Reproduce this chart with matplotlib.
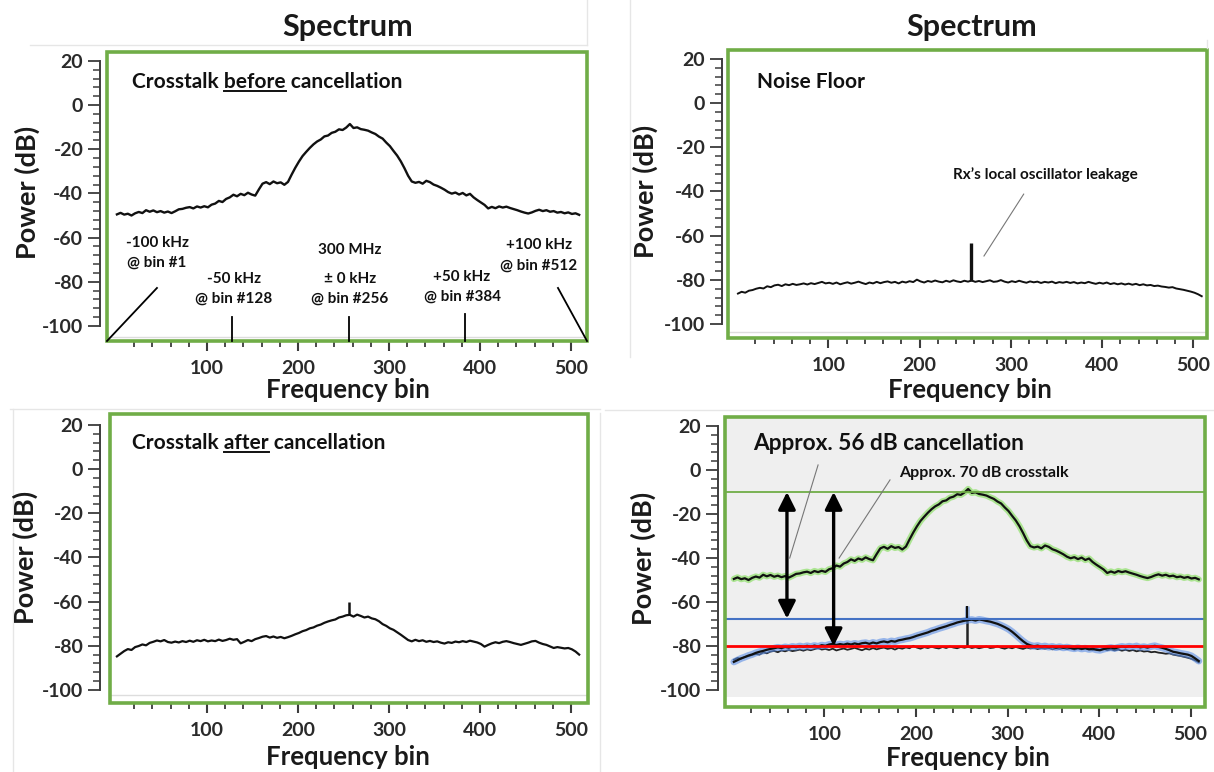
import matplotlib.pyplot as plt
from matplotlib.patches import Rectangle
from matplotlib.lines import Line2D

plt.rcParams['font.family'] = ['Lato', 'DejaVu Sans']
plt.rcParams['axes.unicode_minus'] = False

W, H = 1214, 772

# frequency bins sampled every 4th bin
bins = list(range(1, 513, 4))

crosstalk_before = [
    -49.5, -48.8, -49.6, -49.2, -50.0, -49.0, -48.4, -48.9, -47.6, -48.3, -47.7, -48.5, -48.0, -48.7, -48.2, -48.9,
    -48.1, -47.2, -47.0, -46.5, -46.2, -46.8, -45.9, -46.4, -45.8, -46.3, -45.1, -44.6, -43.4, -43.9, -42.5, -41.8,
    -40.6, -41.3, -40.2, -40.8, -39.7, -40.5, -41.0, -38.2, -35.6, -34.9, -35.8, -34.6, -35.4, -35.0, -36.1, -34.8,
    -31.5, -28.4, -25.6, -23.1, -21.2, -19.4, -17.8, -16.5, -15.6, -14.2, -13.8, -12.6, -12.1, -11.0, -11.3, -10.2,
    -8.6, -10.4, -10.1, -10.9, -11.2, -11.6, -12.4, -13.1, -14.3, -15.2, -17.0, -18.6, -20.8, -22.9, -25.5, -28.6,
    -32.0, -34.6, -35.2, -34.8, -35.6, -34.3, -34.9, -36.0, -36.6, -37.4, -38.3, -39.4, -40.1, -39.6, -40.5, -39.8,
    -40.9, -40.2, -41.8, -43.0, -44.1, -45.2, -46.8, -46.1, -46.7, -45.9, -46.4, -46.0, -46.6, -47.1, -47.6, -48.2,
    -48.7, -49.1, -48.6, -47.9, -47.4, -48.0, -47.6, -48.3, -48.0, -48.7, -48.4, -49.0, -48.6, -49.3, -49.0, -49.7,
]

crosstalk_after = [
    -84.8, -83.6, -82.4, -81.5, -81.9, -80.6, -80.1, -79.4, -79.8, -78.7, -78.2, -77.6, -78.0, -77.4, -78.3, -78.6,
    -78.1, -78.5, -77.9, -78.3, -77.7, -78.2, -77.5, -77.9, -77.3, -78.0, -77.6, -77.9, -77.2, -77.8, -77.4, -76.8,
    -77.3, -77.0, -78.9, -78.2, -77.4, -77.9, -77.0, -76.5, -75.9, -75.6, -76.3, -75.8, -76.4, -76.0, -76.6, -76.1,
    -75.5, -74.8, -74.2, -73.4, -72.9, -72.1, -71.7, -70.9, -70.4, -69.6, -69.0, -68.5, -68.1, -67.2, -66.8, -66.2,
    -66.0, -66.8, -65.9, -66.5, -67.2, -66.8, -67.6, -68.0, -68.9, -70.2, -71.0, -72.1, -72.8, -73.9, -75.0, -76.2,
    -77.4, -78.0, -77.3, -77.9, -77.5, -78.2, -77.8, -78.3, -78.0, -78.6, -79.0, -78.4, -78.7, -78.1, -78.4, -77.9,
    -78.3, -77.7, -78.1, -78.5, -79.2, -80.4, -79.6, -78.9, -78.4, -78.8, -78.2, -77.9, -78.3, -78.8, -79.2, -79.6,
    -79.1, -78.6, -78.0, -77.8, -78.6, -79.2, -79.6, -80.3, -81.0, -80.6, -80.9, -81.2, -81.0, -81.6, -82.6, -84.0,
]

noise_floor = [
    -86.2, -85.4, -85.8, -84.9, -84.6, -84.0, -83.6, -83.9, -82.9, -83.3, -82.5, -82.2, -82.8, -82.0, -82.4, -81.8,
    -82.3, -82.0, -81.6, -82.1, -81.5, -81.9, -81.4, -80.9, -81.6, -81.3, -81.8, -81.2, -82.0, -81.5, -81.1, -81.7,
    -81.3, -80.8, -81.4, -81.9, -81.2, -81.6, -80.9, -81.5, -81.0, -80.7, -81.3, -80.9, -81.6, -80.8, -81.2, -80.6,
    -81.0, -79.9, -80.7, -81.2, -80.5, -80.9, -80.3, -80.8, -81.1, -80.4, -80.9, -80.2, -80.7, -81.0, -80.4, -80.8,
    -80.3, -80.9, -80.5, -81.0, -80.6, -80.2, -80.9, -80.7, -80.1, -80.8, -81.2, -80.6, -81.0, -80.4, -80.9, -81.3,
    -80.7, -81.1, -80.8, -81.4, -80.9, -81.2, -80.8, -81.5, -81.0, -81.3, -80.9, -81.4, -81.0, -81.6, -81.2, -81.5,
    -80.9, -81.4, -81.8, -81.3, -81.7, -81.2, -81.9, -81.5, -82.0, -81.6, -82.1, -81.7, -82.2, -81.8, -82.4, -82.0,
    -82.5, -82.3, -82.8, -82.6, -83.0, -83.2, -83.5, -83.3, -83.9, -84.2, -84.5, -84.9, -85.3, -85.8, -86.5, -87.4,
]

# after-cancellation trace as captured in the overlay panel
after_overlay = [
    -87.2, -86.4, -85.6, -85.0, -84.3, -83.8, -83.1, -82.6, -82.2, -81.7, -81.3, -81.0, -80.6, -80.9, -80.4, -80.7,
    -80.2, -80.5, -80.0, -80.4, -79.9, -80.3, -79.8, -80.2, -79.6, -79.9, -79.3, -79.0, -79.5, -79.1, -79.4, -78.9,
    -79.3, -78.8, -79.2, -78.7, -78.5, -79.0, -78.4, -78.8, -78.2, -77.9, -78.3, -77.7, -78.0, -77.4, -77.1, -76.7,
    -76.4, -75.9, -75.3, -74.8, -74.3, -73.8, -73.1, -72.6, -72.0, -71.5, -71.0, -70.4, -69.9, -69.3, -68.9, -68.5,
    -68.2, -68.0, -68.4, -67.9, -68.2, -68.6, -68.9, -69.4, -69.9, -70.6, -71.4, -72.3, -73.5, -74.9, -76.4, -77.8,
    -79.0, -79.7, -80.1, -79.8, -80.3, -80.0, -80.5, -80.2, -80.7, -80.3, -80.8, -80.5, -80.9, -81.2, -80.8, -81.3,
    -81.0, -81.5, -81.2, -81.7, -81.9, -81.4, -81.0, -80.7, -81.1, -80.6, -80.2, -80.5, -80.1, -80.4, -80.0, -80.6,
    -80.3, -80.7, -80.2, -79.9, -80.4, -80.8, -81.3, -81.9, -82.6, -82.9, -83.3, -83.6, -83.9, -84.5, -85.6, -86.8,
]

# LO leakage spike at the centre bin: (base, top) in dB
leak_bin = 256
leak_noise = (-80.3, -63.3)
leak_after = (-66.0, -60.0)
leak_overlay_after = (-68.2, -62.0)
leak_overlay_noise = (-80.5, -68.0)

# reference levels in the overlay panel
level_before = -10.0
level_after = -67.5
level_noise = -80.0

GREEN = '#70ad47'
AXC = '#3c3c3c'


def fpos(x, y):
    return x / W, 1 - y / H


def make_panel(fig, box, xlim, ylim, gap):
    left, top, right, bottom = box
    ax = fig.add_axes([left / W, 1 - bottom / H, (right - left) / W, (bottom - top) / H])
    ax.set_xlim(xlim)
    ax.set_ylim(ylim)
    for s in ['top', 'right', 'bottom']:
        ax.spines[s].set_visible(False)
    ax.spines['left'].set_position(('outward', gap * 0.72))
    ax.spines['left'].set_bounds(-100, 20)
    ax.spines['left'].set_color(AXC)
    ax.spines['left'].set_linewidth(1.4)
    ax.set_xticks([100, 200, 300, 400, 500])
    ax.set_xticks([v for v in range(20, 520, 20) if v % 100], minor=True)
    ax.set_yticks(range(-100, 21, 20))
    ax.set_yticks([v for v in range(-100, 21, 4) if v % 20], minor=True)
    ax.tick_params(axis='y', which='major', length=9, width=1.3, color=AXC, labelsize=14, pad=3,
                   labelcolor='#2a2a2a')
    ax.tick_params(axis='y', which='minor', length=5, width=1.1, color=AXC)
    ax.tick_params(axis='x', which='major', length=7, width=1.5, color=AXC, labelsize=14, pad=7,
                   labelcolor='#2a2a2a')
    ax.tick_params(axis='x', which='minor', length=4, width=1.3, color=AXC)
    for lab in ax.get_xticklabels() + ax.get_yticklabels():
        lab.set_fontweight('bold')
    ax.add_patch(Rectangle((0, 0), 1, 1, transform=ax.transAxes, fill=False, ec=GREEN, lw=2.6,
                           clip_on=False, zorder=10))
    return ax


def text_px(fig, x, y, s, **kw):
    return fig.text(*fpos(x, y), s, **kw)


def underlined(fig, x, y, pre, word, post, size):
    kw = dict(fontsize=size, fontweight='bold', color='#111111', va='center', ha='left')
    full = text_px(fig, x, y, pre + word + post, **kw)
    r = fig.canvas.get_renderer()
    t1 = text_px(fig, x, y, pre + word, **kw)
    t2 = text_px(fig, x, y, word, **kw)
    w1 = t1.get_window_extent(r).width
    w2 = t2.get_window_extent(r).width
    t1.remove()
    t2.remove()
    x0, x1 = x + w1 - w2, x + w1
    yl = y + size * 0.62
    fig.add_artist(Line2D([x0 / W, x1 / W], [1 - yl / H, 1 - yl / H], color='#111111', lw=1.4))
    return full


fig = plt.figure(figsize=(W / 100, H / 100), dpi=100)

# faint screenshot borders
for (xa, ya, xb, yb) in [(10, 409, 600, 409), (13, 409, 13, 772), (600, 413, 600, 772), (605, 410, 1214, 410),
                         (630, 0, 630, 357), (587, 0, 587, 45), (30, 45, 587, 45), (1207, 40, 1207, 48)]:
    fig.add_artist(Line2D([xa / W, xb / W], [1 - ya / H, 1 - yb / H], color='#e6e6e6', lw=1))

# ---- top left: crosstalk before cancellation
ax1 = make_panel(fig, (107, 52, 587, 341), (-9.9, 517.6), (-106.8, 24.0), 7)
ax1.axhline(-105, color='#dddddd', lw=1)
ax1.plot(bins, crosstalk_before, color='#111111', lw=1.7)
for xa, ya, xb, yb in [(45, -82.8, -9.9, -106.8), (128, -96, 128, -106.8), (256, -96, 256, -106.8),
                       (384, -94.6, 384, -106.8), (485.7, -82.8, 517.6, -106.8)]:
    ax1.plot([xa, xb], [ya, yb], color='black', lw=1.3, clip_on=False, zorder=11)
small = dict(fontsize=11, fontweight='bold', color='#111111', ha='center', va='center')
text_px(fig, 157, 243, '-100 kHz', **small)
text_px(fig, 157, 263, '@ bin #1', **small)
text_px(fig, 234, 279, '-50 kHz', **small)
text_px(fig, 234, 299, '@ bin #128', **small)
text_px(fig, 350, 250, '300 MHz', **small)
text_px(fig, 350, 279, '\u00b1 0 kHz', **small)
text_px(fig, 350, 299, '@ bin #256', **small)
text_px(fig, 462, 277, '+50 kHz', **small)
text_px(fig, 462, 297, '@ bin #384', **small)
text_px(fig, 539, 245, '+100 kHz', **small)
text_px(fig, 539, 266, '@ bin #512', **small)
underlined(fig, 132, 82, 'Crosstalk ', 'before', ' cancellation', 15)

# ---- top right: noise floor
ax2 = make_panel(fig, (728, 50, 1207, 338), (-9.9, 514.8), (-106.3, 24.0), 6)
ax2.axhline(-103.6, color='#dddddd', lw=1)
ax2.plot(bins, noise_floor, color='#111111', lw=1.4)
ax2.vlines(leak_bin, leak_noise[0], leak_noise[1], color='#111111', lw=2.4)
ax2.plot([314, 270.5], [-41.2, -69.2], color='#777777', lw=0.8)
text_px(fig, 757, 82, 'Noise Floor', fontsize=15, fontweight='bold', color='#111111', va='center')
text_px(fig, 1045, 175, 'Rx\u2019s local oscillator leakage', fontsize=11, fontweight='bold',
        color='#111111', ha='center', va='center')

# ---- bottom left: crosstalk after cancellation
ax3 = make_panel(fig, (110, 414, 588, 703), (-6.6, 518.7), (-105.9, 24.9), 10)
ax3.axhline(-102.3, color='#dddddd', lw=1)
ax3.plot(bins, crosstalk_after, color='#111111', lw=1.6)
ax3.vlines(leak_bin, leak_after[0], leak_after[1], color='#111111', lw=1.8)
underlined(fig, 132, 443, 'Crosstalk ', 'after', ' cancellation', 15)

# ---- bottom right: overlay
ax4 = make_panel(fig, (725, 417, 1205, 707), (-8.7, 515.8), (-107.7, 24.1), 7)
ax4.axhspan(-103.2, 30, color='#efefef', zorder=0, lw=0)
ax4.plot(bins, crosstalk_before, color='#8fe06a', lw=4.5, alpha=0.7, solid_capstyle='round')
ax4.plot(bins, crosstalk_before, color='#111111', lw=1.6)
ax4.plot(bins, noise_floor, color='#222222', lw=1.3)
ax4.vlines(leak_bin, leak_overlay_noise[0], leak_overlay_noise[1], color='#222222', lw=1.8)
ax4.plot(bins, after_overlay, color='#5b8ee6', lw=5, alpha=0.6, solid_capstyle='round')
ax4.vlines(leak_bin, leak_overlay_after[0], leak_overlay_after[1], color='#5b8ee6', lw=3.5, alpha=0.5)
ax4.plot(bins, after_overlay, color='#111111', lw=1.6)
ax4.vlines(leak_bin, leak_overlay_after[0], leak_overlay_after[1], color='#111111', lw=1.6)
ax4.axhline(level_before, color=GREEN, lw=1.3)
ax4.axhline(level_after, color='#4472c4', lw=1.5)
ax4.axhline(level_noise, color='#ff0000', lw=2.0)
arrow = dict(arrowstyle='<|-|>', lw=2.4, color='black', mutation_scale=26, shrinkA=0, shrinkB=0)
ax4.annotate('', xy=(59, level_after), xytext=(59, level_before), arrowprops=arrow)
ax4.annotate('', xy=(110, level_noise), xytext=(110, level_before), arrowprops=arrow)
ax4.plot([93, 62], [2.3, -40], color='#777777', lw=0.8)
ax4.plot([171.6, 116], [-4.5, -40], color='#777777', lw=0.8)
text_px(fig, 753, 443, 'Approx. 56 dB cancellation', fontsize=16.3, fontweight='bold', color='#111111',
        va='center')
text_px(fig, 899, 473, 'Approx. 70 dB crosstalk', fontsize=11.5, fontweight='bold', color='#111111',
        va='center')

# titles and axis labels
big = dict(fontsize=22, fontweight='bold', color='#1a1a1a', ha='center', va='center')
text_px(fig, 348, 27, 'Spectrum', **big)
text_px(fig, 972, 27, 'Spectrum', **big)
xl = dict(fontsize=18.5, fontweight='bold', color='#1a1a1a', ha='center', va='center')
text_px(fig, 348, 390, 'Frequency bin', **xl)
text_px(fig, 970, 390, 'Frequency bin', **xl)
text_px(fig, 348, 757, 'Frequency bin', **xl)
text_px(fig, 968, 758, 'Frequency bin', **xl)
yl = dict(fontsize=19.5, fontweight='bold', color='#1a1a1a', ha='center', va='center', rotation=90)
text_px(fig, 27, 192, 'Power (dB)', **yl)
text_px(fig, 645, 191, 'Power (dB)', **yl)
text_px(fig, 25, 557, 'Power (dB)', **yl)
text_px(fig, 643, 558, 'Power (dB)', **yl)

fig.savefig('out.png', dpi=100)
